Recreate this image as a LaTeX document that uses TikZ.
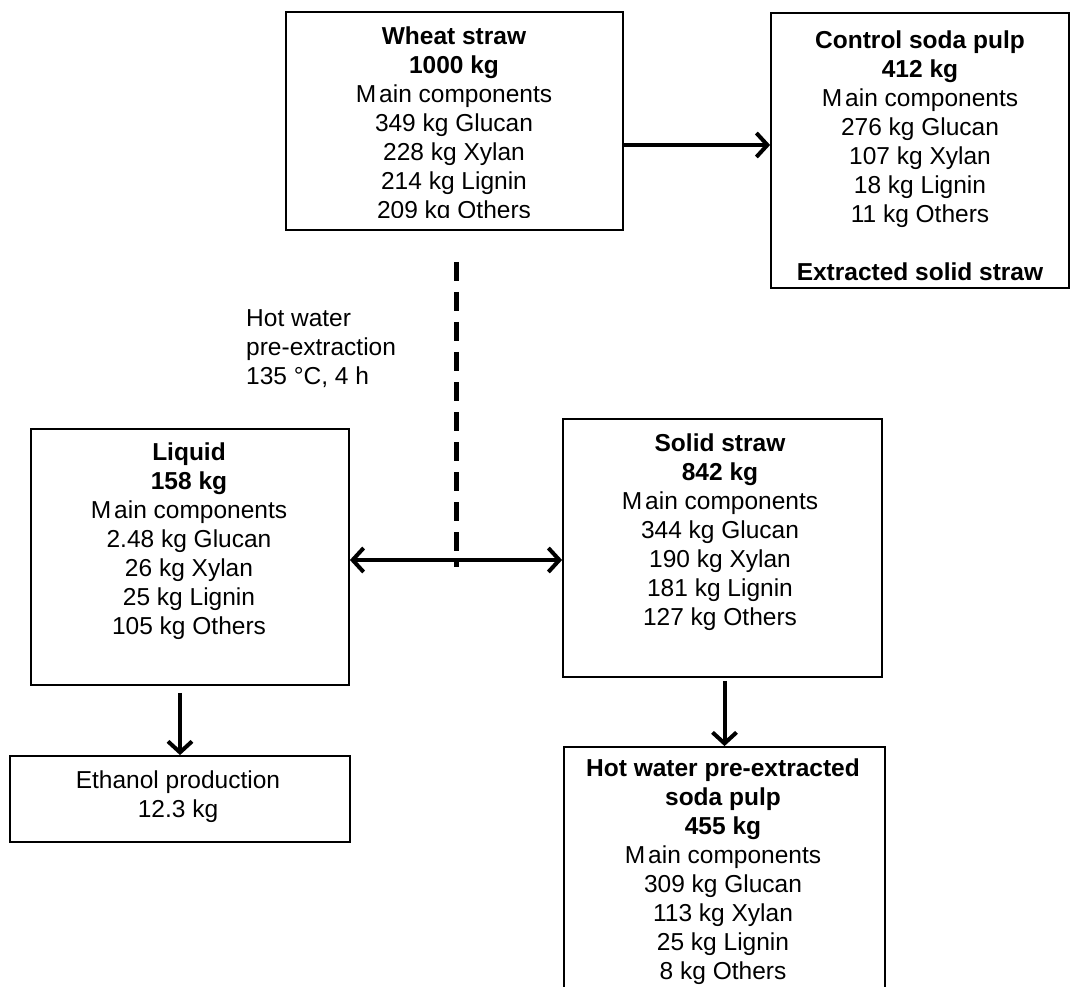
\documentclass[tikz,border=0pt]{standalone}
\usepackage{fontspec}
\setmainfont{Liberation Sans}
\usetikzlibrary{arrows.meta,calc}
\begin{document}
\begin{tikzpicture}[x=1pt,y=-1pt,
  box/.style={draw=black, line width=1.8pt, inner sep=0pt, rectangle},
  txt/.style={inner sep=0pt, align=center, font=\fontsize{24.5}{29}\selectfont},
  arr/.style={line width=4pt, -{Straight Barb[length=11pt,width=24pt]}},
  darr/.style={line width=4pt, {Straight Barb[length=11pt,width=24pt]}-{Straight Barb[length=11pt,width=24pt]}},
  dashline/.style={line width=5pt, dash pattern=on 19pt off 11pt}
]
\useasboundingbox (0,0) rectangle (1080,987);
\clip (0,0) rectangle (1080,987);
\fill[white] (0,0) rectangle (1080,987);

% boxes
\node[box, minimum width=337pt, minimum height=218pt] (wheat) at (454.5,121) {};
\node[box, minimum width=298pt, minimum height=275pt] (ctrl) at (920,150.5) {};
\node[box, minimum width=318pt, minimum height=256pt] (liq) at (190,557) {};
\node[box, minimum width=319pt, minimum height=258pt] (sol) at (722.5,548) {};
\node[box, minimum width=340pt, minimum height=86pt] (eth) at (180,799) {};
\node[box, minimum width=321pt, minimum height=263pt] (hw) at (724.5,878.5) {};

% texts
\begin{scope}
\clip (wheat.north west) rectangle ([yshift=13pt]wheat.south east);
\node[txt] (wheatt) at (454,125) {\textbf{Wheat straw}\\\textbf{1000 kg}\\M\kern3pt ain components\\349 kg Glucan\\228 kg Xylan\\214 kg Lignin\\209 kg Others};
\end{scope}
\node[txt] (ctrlt) at (920,156) {\textbf{Control soda pulp}\\\textbf{412 kg}\\M\kern3pt ain components\\276 kg Glucan\\107 kg Xylan\\18 kg Lignin\\11 kg Others\\[29pt]\textbf{Extracted solid straw}};
\node[txt] (liqt) at (189,541) {\textbf{Liquid}\\\textbf{158 kg}\\M\kern3pt ain components\\2.48 kg Glucan\\26 kg Xylan\\25 kg Lignin\\105 kg Others};
\node[txt] (solt) at (720,532) {\textbf{Solid straw}\\\textbf{842 kg}\\M\kern3pt ain components\\344 kg Glucan\\190 kg Xylan\\181 kg Lignin\\127 kg Others};
\node[txt] (hwt) at (723,872) {\textbf{Hot water pre-extracted}\\\textbf{soda pulp}\\\textbf{455 kg}\\M\kern3pt ain components\\309 kg Glucan\\113 kg Xylan\\25 kg Lignin\\8 kg Others};
\node[txt] (etht) at (178,797) {Ethanol production\\12.3 kg};
\node[txt, align=left, anchor=west] (cond) at (246,349) {Hot water\\pre-extraction\\135 °C, 4 h};

% connectors
\coordinate (dtop) at (456,262);
\coordinate (dbot) at (456,567);
\draw[dashline] (dtop) -- (dbot);
\draw[arr] ([yshift=-24pt]wheat.east) -- ([yshift=-24pt]wheat.east -| ctrl.west);
\draw[darr] ([yshift=-3pt]liq.east) -- ([yshift=-3pt]liq.east -| sol.west);
\draw[arr] ([yshift=-7pt]liq.south -| eth.north) -- (eth.north);
\draw[arr] ([yshift=-3pt]sol.south -| hw.north) -- (hw.north);
\end{tikzpicture}
\end{document}
